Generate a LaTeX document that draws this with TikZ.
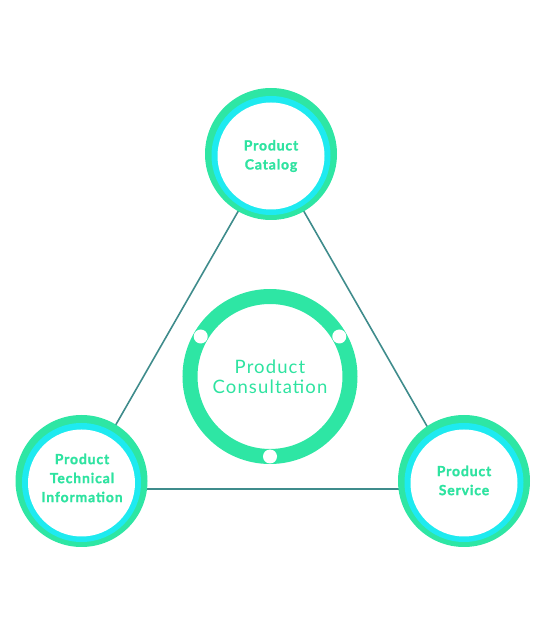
\documentclass[tikz,border=0pt]{standalone}
\usepackage{fontspec}
\setmainfont{Lato}
\newfontfamily\satfont{Lato}[LetterSpace=6, BoldFeatures={FakeBold=1.2}]
\newfontfamily\cenfont{Lato}[LetterSpace=6]
\definecolor{ringgreen}{HTML}{2EE6A4}
\definecolor{ringcyan}{HTML}{1EEAF0}
\definecolor{txtgreen}{HTML}{2EE3A0}
\definecolor{linkcol}{HTML}{3F8C8C}
\begin{document}
\begin{tikzpicture}[x=1pt,y=1pt,
  link/.style={draw=linkcol,line width=1.6pt},
  outerring/.style={circle,fill=ringgreen,minimum size=132pt,inner sep=0pt},
  midring/.style={circle,fill=ringcyan,minimum size=119pt,inner sep=0pt},
  whitedisc/.style={circle,fill=white,minimum size=107pt,inner sep=0pt},
  sattext/.style={text=txtgreen,font=\satfont\bfseries\fontsize{14}{19}\selectfont,align=center},
  centretext/.style={text=txtgreen,font=\cenfont\fontsize{18.5}{20}\selectfont,align=center},
  dot/.style={circle,fill=white,minimum size=14pt,inner sep=0pt}]
\useasboundingbox (0,0) rectangle (546,635);
\coordinate (vT) at (271,481);
\coordinate (vL) at (79,146);
\coordinate (vR) at (463,146);
\draw[link] (vT) -- (vL);
\draw[link] (vT) -- (vR);
\draw[link] (vL) -- (vR);
% top
\node[outerring] (topO) at (271,481) {};
\node[midring] (topM) at ([yshift=-1.5pt]topO.center) {};
\node[whitedisc] (topW) at ([yshift=-2pt]topO.center) {};
\node[sattext] (topT) at (271,479) {Product\\Catalog};
% left
\node[outerring] (leftO) at (81.5,154) {};
\node[midring] (leftM) at ([yshift=-1.5pt]leftO.center) {};
\node[whitedisc] (leftW) at ([yshift=-2pt]leftO.center) {};
\node[sattext] (leftT) at (82,157) {Product\\Technical\\Information};
% right
\node[outerring] (rightO) at (464,154) {};
\node[midring] (rightM) at ([yshift=-1.5pt]rightO.center) {};
\node[whitedisc] (rightW) at ([yshift=-2pt]rightO.center) {};
\node[sattext] (rightT) at (464,154.5) {Product\\Service};
% centre
\node[circle,draw=ringgreen,line width=15pt,minimum size=160pt,inner sep=0pt] (cen) at (270,258.5) {};
\node[dot] (d1) at ([shift={(150:80pt)}]cen.center) {};
\node[dot] (d2) at ([shift={(30:80pt)}]cen.center) {};
\node[dot] (d3) at ([shift={(270:80pt)}]cen.center) {};
\node[centretext] (cenT) at (270,258) {Product\\Consultation};
\end{tikzpicture}
\end{document}
